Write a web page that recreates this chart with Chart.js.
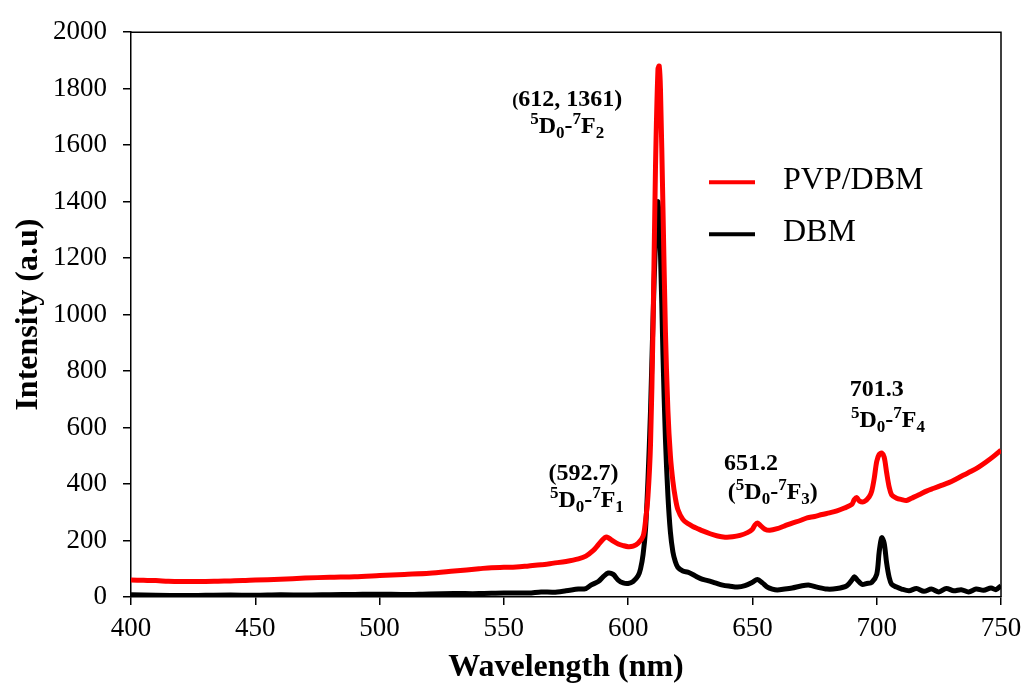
<!DOCTYPE html>
<html>
<head>
<meta charset="utf-8">
<script src="https://cdn.jsdelivr.net/npm/chart.js@4.4.1/dist/chart.umd.min.js"></script>
<style>
  html, body { margin: 0; padding: 0; background: #fff; }
  #wrap { width: 1030px; height: 696px; }
</style>
</head>
<body>
<div id="wrap"><canvas id="spectrum" width="1030" height="696"></canvas></div>
<script>
const xTicks = [400, 450, 500, 550, 600, 650, 700, 750]
const yTicks = [0, 200, 400, 600, 800, 1000, 1200, 1400, 1600, 1800, 2000]

const pvpWavelength = [400, 405, 410, 415, 420, 425, 430, 435, 440, 445, 450, 460, 470, 480, 490, 500, 510, 520, 530, 540, 545, 550, 555, 560, 565, 570, 575, 580, 583, 586, 588, 590, 591, 592, 594, 596, 598, 600, 602, 604, 606, 607, 608, 609, 610, 611, 612, 612.5, 613, 614, 615, 616, 617, 618, 619, 620, 622, 624, 626, 628, 630, 633, 636, 639, 642, 645, 648, 650, 651, 652, 653, 655, 657, 660, 663, 666, 669, 672, 675, 678, 681, 684, 687, 690, 691, 692, 693, 695, 697, 698, 699, 700, 701, 702, 703, 704, 705, 706, 708, 710, 712, 714, 717, 720, 723, 726, 729, 732, 735, 738, 741, 744, 747, 750]
const pvpIntensity = [60, 59, 58, 56, 55, 55, 55, 56, 57, 58, 60, 63, 67, 70, 72, 76, 80, 84, 92, 100, 104, 105, 106, 110, 114, 120, 126, 135, 145, 165, 185, 205, 212, 210, 198, 188, 182, 178, 180, 190, 215, 270, 360, 540, 950, 1520, 1870, 1880, 1800, 1380, 940, 660, 500, 410, 350, 310, 275, 260, 250, 242, 234, 224, 216, 212, 213, 218, 228, 240, 255, 262, 255, 240, 236, 242, 252, 262, 270, 280, 285, 292, 298, 305, 315, 328, 345, 352, 340, 338, 355, 375, 420, 480, 505, 510, 495, 440, 390, 362, 350, 345, 342, 350, 362, 375, 385, 395, 405, 418, 432, 445, 460, 478, 498, 520]

const dbmWavelength = [400, 410, 420, 430, 440, 450, 460, 470, 480, 490, 500, 510, 520, 530, 540, 550, 560, 565, 570, 575, 580, 583, 585, 588, 590, 592, 594, 596, 598, 600, 602, 604, 605, 606, 607, 608, 609, 610, 611, 612, 613, 614, 615, 616, 617, 618, 619, 620, 622, 624, 626, 628, 630, 632, 635, 638, 641, 644, 647, 650, 652, 654, 656, 658, 660, 663, 666, 670, 673, 676, 680, 684, 688, 690, 691, 692, 694, 696, 698, 700, 701, 702, 703, 704, 705, 706, 708, 710, 713, 716, 719, 722, 725, 728, 731, 734, 737, 740, 743, 746, 748, 750]
const dbmIntensity = [8, 6, 5, 6, 7, 6, 8, 7, 8, 9, 10, 9, 11, 12, 12, 14, 14, 18, 17, 22, 28, 30, 42, 55, 72, 85, 80, 60, 50, 48, 55, 75, 100, 150, 240, 420, 660, 980, 1260, 1400, 1220, 860, 560, 360, 230, 160, 125, 105, 92, 88, 80, 70, 62, 58, 50, 42, 38, 35, 40, 52, 62, 50, 35, 28, 25, 28, 32, 40, 42, 35, 28, 30, 40, 60, 72, 62, 45, 48, 52, 80, 160, 210, 190, 120, 70, 45, 35, 28, 22, 30, 20, 28, 18, 30, 22, 26, 18, 28, 24, 32, 26, 40]

const seriesLabels = ['PVP/DBM', 'DBM']

const serif = "'Liberation Serif', 'Times New Roman', serif"

const toPoints = (xs, ys) => xs.map((x, i) => ({x: x, y: ys[i]}))

// peak labels, anchored in data units; each line is a list of [text, kind]
const peakNotes = [
    {x: 575.5, y: 1740, parts: [['(', 'small'], ['612, 1361)', 'n']]},
    {x: 575.5, y: 1643, parts: [['5', 'sup'], ['D', 'n'], ['0', 'sub'], ['-', 'n'], ['7', 'sup'], ['F', 'n'], ['2', 'sub']]},
    {x: 582, y: 416, parts: [['(592.7)', 'n']]},
    {x: 583.4, y: 319, parts: [['5', 'sup'], ['D', 'n'], ['0', 'sub'], ['-', 'n'], ['7', 'sup'], ['F', 'n'], ['1', 'sub']]},
    {x: 649.4, y: 451, parts: [['651.2', 'n']]},
    {x: 658.2, y: 347, parts: [['(', 'n'], ['5', 'sup'], ['D', 'n'], ['0', 'sub'], ['-', 'n'], ['7', 'sup'], ['F', 'n'], ['3', 'sub'], [')', 'n']]},
    {x: 700, y: 711, parts: [['701.3', 'n']]},
    {x: 704.5, y: 603, parts: [['5', 'sup'], ['D', 'n'], ['0', 'sub'], ['-', 'n'], ['7', 'sup'], ['F', 'n'], ['4', 'sub']]},
]

const fontFor = kind => {
    if (kind === 'sup' || kind === 'sub') return 'bold 17px ' + serif
    if (kind === 'small') return 'bold 18px ' + serif
    return 'bold 24px ' + serif
}
const shiftFor = kind => kind === 'sup' ? -9 : (kind === 'sub' ? 5 : 0)

const notesPlugin = {
    id: 'notes',
    beforeDatasetsDraw(chart) {
        const {ctx, chartArea: a} = chart
        ctx.save()
        ctx.strokeStyle = '#000'
        ctx.lineWidth = 1.5
        ctx.beginPath()
        ctx.moveTo(a.left, a.top)
        ctx.lineTo(a.right, a.top)
        ctx.lineTo(a.right, a.bottom)
        ctx.stroke()
        ctx.restore()
    },
    afterDatasetsDraw(chart) {
        const {ctx, scales, chartArea: a} = chart
        ctx.save()
        ctx.fillStyle = '#000'
        ctx.textBaseline = 'alphabetic'
        ctx.textAlign = 'left'
        peakNotes.forEach(note => {
            let total = 0
            note.parts.forEach(p => { ctx.font = fontFor(p[1]); total += ctx.measureText(p[0]).width })
            let px = scales.x.getPixelForValue(note.x) - total / 2
            const py = scales.y.getPixelForValue(note.y)
            note.parts.forEach(p => {
                ctx.font = fontFor(p[1])
                ctx.fillText(p[0], px, py + shiftFor(p[1]))
                px += ctx.measureText(p[0]).width
            })
        })

        // legend inside the plot
        const lx = a.left + 578
        chart.data.datasets.forEach((ds, i) => {
            const ly = a.top + 150 + i * 52
            ctx.strokeStyle = ds.borderColor
            ctx.lineWidth = 4
            ctx.beginPath()
            ctx.moveTo(lx, ly)
            ctx.lineTo(lx + 46, ly)
            ctx.stroke()
            ctx.font = '32px ' + serif
            ctx.textBaseline = 'middle'
            ctx.fillText(ds.label, lx + 74, ly - 2)
        })
        ctx.restore()
    }
}

new Chart(document.getElementById('spectrum').getContext('2d'), {
    type: 'line',
    data: {
        datasets: [{
            label: seriesLabels[0],
            data: toPoints(pvpWavelength, pvpIntensity),
            borderColor: '#ff0000',
            borderWidth: 5,
            pointRadius: 0,
            tension: 0.3,
            fill: false
        }, {
            label: seriesLabels[1],
            data: toPoints(dbmWavelength, dbmIntensity),
            borderColor: '#000000',
            borderWidth: 5,
            pointRadius: 0,
            tension: 0.3,
            fill: false
        }]
    },
    options: {
        responsive: false,
        animation: false,
        layout: { padding: {top: 20, right: 29, left: 0, bottom: 0} },
        plugins: {
            legend: { display: false },
            tooltip: { enabled: false }
        },
        scales: {
            x: {
                type: 'linear',
                min: 400,
                max: 750,
                afterBuildTicks: scale => { scale.ticks = xTicks.map(v => ({value: v})) },
                afterFit: scale => { scale.height = 99 },
                ticks: { color: '#000', font: {family: serif, size: 27}, padding: 8, maxRotation: 0, callback: v => String(v) },
                grid: { drawOnChartArea: false, drawTicks: true, tickLength: 8, color: '#000', lineWidth: 1.5 },
                border: { display: true, color: '#000', width: 1.5 },
                title: {
                    display: true,
                    text: 'Wavelength (nm)',
                    color: '#000',
                    font: {family: serif, size: 32, weight: 'bold'},
                    padding: {top: 0, bottom: 9}
                }
            },
            y: {
                min: 0,
                max: 2000,
                afterBuildTicks: scale => { scale.ticks = yTicks.map(v => ({value: v})) },
                afterFit: scale => { scale.width = 131 },
                ticks: { color: '#000', font: {family: serif, size: 27}, padding: 16, callback: v => String(v) },
                grid: { drawOnChartArea: false, drawTicks: true, tickLength: 8, color: '#000', lineWidth: 1.5 },
                border: { display: true, color: '#000', width: 1.5 },
                title: {
                    display: true,
                    text: 'Intensity (a.u)',
                    color: '#000',
                    font: {family: serif, size: 32, weight: 'bold'},
                    padding: {top: 10, bottom: 0}
                }
            }
        }
    },
    plugins: [notesPlugin]
})
</script>
</body>
</html>
